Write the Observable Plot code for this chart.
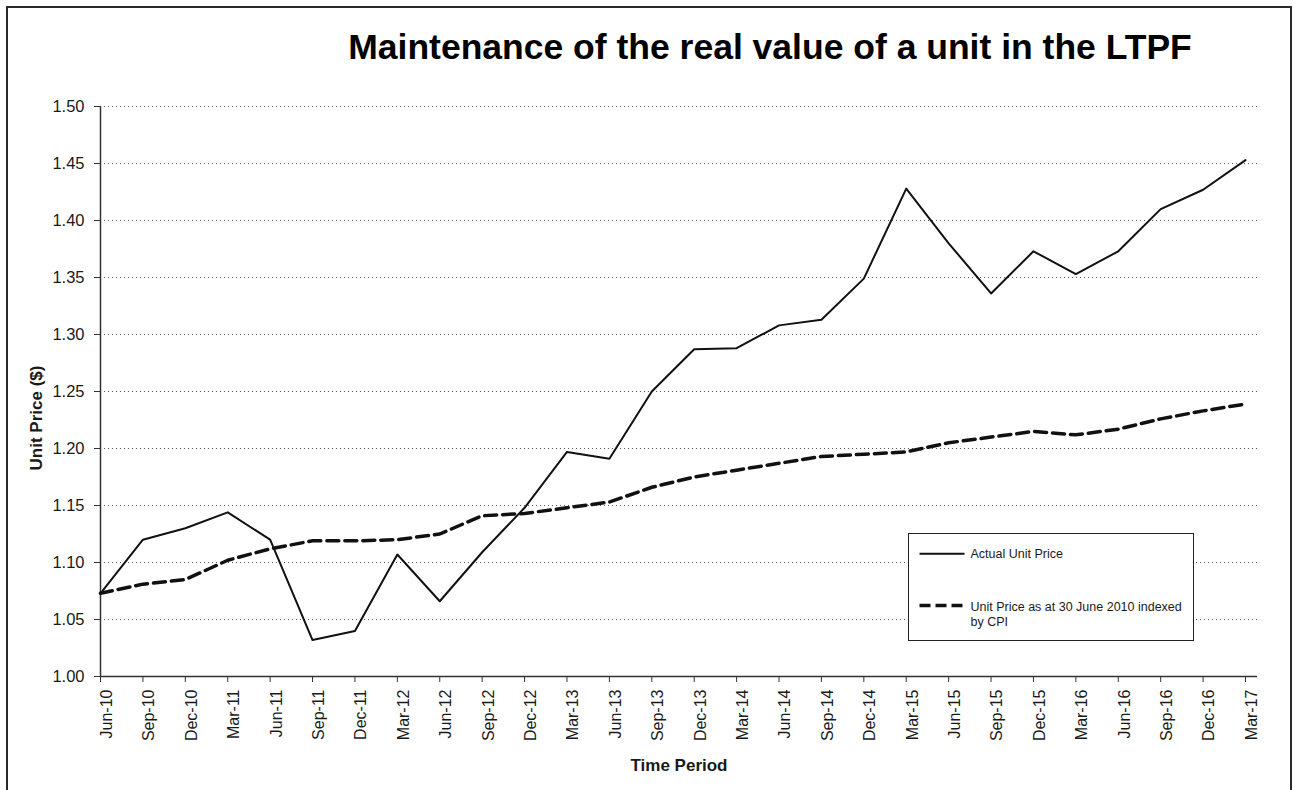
<!DOCTYPE html>
<html>
<head>
<meta charset="utf-8">
<script src="https://cdn.jsdelivr.net/npm/d3@7"></script>
<script src="https://cdn.jsdelivr.net/npm/@observablehq/plot@0.6"></script>
<style>
html, body { margin: 0; padding: 0; background: #fff; overflow: hidden; }
#wrap { position: relative; width: 1295px; height: 790px; font-family: "Liberation Sans", Arial, sans-serif; color: #111; }
#chart { position: absolute; left: 0; top: 0; }
#border { position: absolute; left: 6px; top: 6px; width: 1282px; height: 900px; border: 2px solid #2a2a2a; pointer-events: none; }
#title { position: absolute; left: 770px; top: 28.7px; transform: translateX(-50%); white-space: nowrap; font-weight: bold; font-size: 35.5px; line-height: 36px; color: #000; }
#legend { position: absolute; left: 908px; top: 533px; width: 284px; height: 106px; border: 1.5px solid #222; background: #fff; }
#legend svg { position: absolute; left: 0; top: 0; }
</style>
</head>
<body>
<div id="wrap">
  <div id="chart"></div>
  <div id="title">Maintenance of the real value of a unit in the LTPF</div>
  <div id="legend"></div>
  <div id="border"></div>
</div>
<script>
// ---- data ----
const periods = ["Jun-10","Sep-10","Dec-10","Mar-11","Jun-11","Sep-11","Dec-11","Mar-12","Jun-12","Sep-12","Dec-12","Mar-13","Jun-13","Sep-13","Dec-13","Mar-14","Jun-14","Sep-14","Dec-14","Mar-15","Jun-15","Sep-15","Dec-15","Mar-16","Jun-16","Sep-16","Dec-16","Mar-17"];
const actualUnitPrice = [1.073,1.120,1.130,1.144,1.120,1.032,1.040,1.107,1.066,1.109,1.148,1.197,1.191,1.250,1.287,1.288,1.308,1.313,1.349,1.428,1.380,1.336,1.373,1.353,1.373,1.410,1.427,1.453];
const cpiIndexedPrice = [1.073,1.081,1.085,1.102,1.112,1.119,1.119,1.120,1.125,1.141,1.143,1.148,1.153,1.166,1.175,1.181,1.187,1.193,1.195,1.197,1.205,1.210,1.215,1.212,1.217,1.226,1.233,1.239];
const yTicks = [1.00,1.05,1.10,1.15,1.20,1.25,1.30,1.35,1.40,1.45,1.50];
const seriesNames = ["Actual Unit Price", "Unit Price as at 30 June 2010 indexed", "by CPI"];
const yLabel = "Unit Price ($)";
const xLabel = "Time Period";

const rows = periods.map((p, i) => ({period: p, actual: actualUnitPrice[i], cpi: cpiIndexedPrice[i]}));
const font = '"Liberation Sans", Arial, sans-serif';
const ink = "#1a1a1a";

const chart = Plot.plot({
  width: 1295,
  height: 790,
  marginLeft: 100,
  marginRight: 38,
  marginTop: 106,
  marginBottom: 114,
  insetRight: 12,
  style: {fontFamily: font, background: "transparent", color: ink},
  x: {type: "point", domain: periods, padding: 0, round: false, label: null},
  y: {domain: [1.0, 1.5], label: null},
  marks: [
    Plot.ruleY(yTicks.filter(v => v > 1.0), {stroke: "#555", strokeWidth: 1, strokeDasharray: "1,3"}),
    Plot.axisY({ticks: yTicks, tickSize: 6, tickPadding: 10, tickFormat: d3.format(".2f"), fontSize: 16.5, label: null, stroke: "#333"}),
    Plot.axisX({tickSize: 6, tickFormat: () => "", label: null, stroke: "#333"}),
    Plot.text(periods, {x: d => d, text: d => d, frameAnchor: "bottom", rotate: -90, textAnchor: "end", lineAnchor: "top", dy: 13, fontSize: 16, fill: ink}),
    Plot.ruleX([periods[0]], {stroke: "#333", strokeWidth: 1.5}),
    Plot.ruleY([1.0], {stroke: "#333", strokeWidth: 1.5}),
    Plot.line(rows, {x: "period", y: "cpi", stroke: "#111", strokeWidth: 3.5, strokeDasharray: "12,6"}),
    Plot.line(rows, {x: "period", y: "actual", stroke: "#111", strokeWidth: 2}),
    Plot.text([yLabel], {text: d => d, frameAnchor: "left", rotate: -90, textAnchor: "middle", lineAnchor: "middle", dx: -63.7, dy: 26.5, fontSize: 17, fontWeight: "bold", fill: ink}),
    Plot.text([xLabel], {text: d => d, frameAnchor: "bottom", textAnchor: "middle", lineAnchor: "middle", dy: 88.6, fontSize: 17, fontWeight: "bold", fill: ink})
  ]
});
document.getElementById("chart").appendChild(chart);

// ---- legend ----
const lg = d3.select("#legend").append("svg").attr("width", 284).attr("height", 106)
  .style("font-family", font).style("font-size", "12.5px");
lg.append("line").attr("x1", 10.5).attr("x2", 55.5).attr("y1", 19.8).attr("y2", 19.8)
  .attr("stroke", "#111").attr("stroke-width", 2);
lg.append("line").attr("x1", 10.5).attr("x2", 56).attr("y1", 71.5).attr("y2", 71.5)
  .attr("stroke", "#111").attr("stroke-width", 3.5).attr("stroke-dasharray", "11,5");
lg.append("text").attr("x", 61.5).attr("y", 23.8).attr("fill", ink).text(seriesNames[0]);
lg.append("text").attr("x", 61.5).attr("y", 77.2).attr("fill", ink).text(seriesNames[1]);
lg.append("text").attr("x", 61.5).attr("y", 92.2).attr("fill", ink).text(seriesNames[2]);
</script>
</body>
</html>
